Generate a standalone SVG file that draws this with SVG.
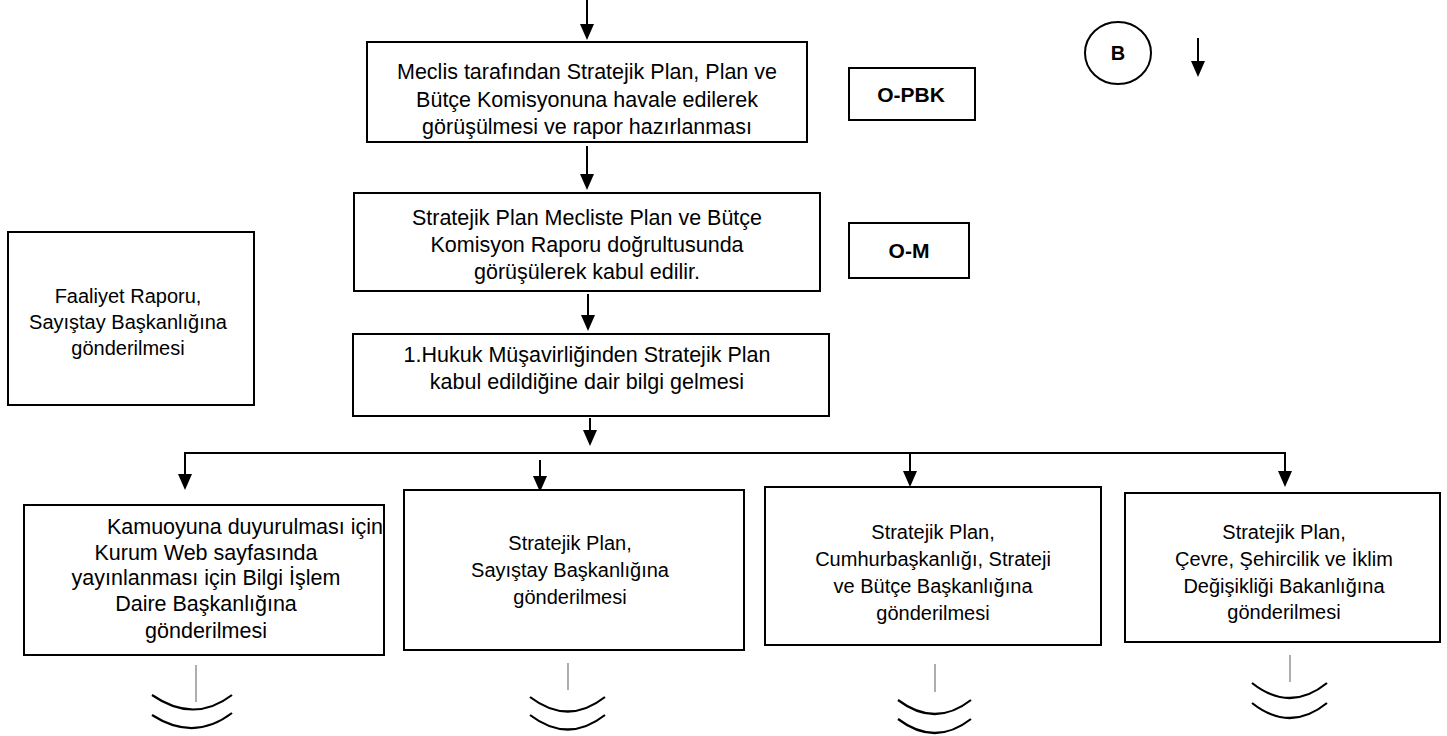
<svg xmlns="http://www.w3.org/2000/svg" width="1447" height="736" viewBox="0 0 1447 736">
<defs>
<style>
.box{fill:#fff;stroke:#000;stroke-width:2}
.t{font-family:"Liberation Sans",Arial,sans-serif;font-size:20px;fill:#000;text-anchor:middle}
.L{font-size:21.5px}
.b{font-weight:bold;font-size:21px}
.c{fill:none;stroke:#000;stroke-width:2}
.arr{fill:none;stroke:#000;stroke-width:2}
.tick{stroke:#777;stroke-width:1.2}
.sq{fill:none;stroke:#000;stroke-width:2.2}
</style>
</defs>
<rect width="1447" height="736" fill="#fff"/>

<g id="connectors">
<line class="arr" x1="587" y1="0" x2="587" y2="25"/>
<path d="M580,24 L594,24 L587,40 Z"/>
<line class="arr" x1="587" y1="146" x2="587" y2="175"/>
<path d="M580,174 L594,174 L587,190 Z"/>
<line class="arr" x1="588" y1="294" x2="588" y2="316"/>
<path d="M581,315 L595,315 L588,331 Z"/>
<line class="arr" x1="590" y1="418" x2="590" y2="431"/>
<path d="M583,430 L597,430 L590,446 Z"/>
<polyline class="arr" points="185,475 185,453 1285,453 1285,472"/>
<path d="M178,474 L192,474 L185,490 Z"/>
<path d="M1278,471 L1292,471 L1285,487 Z"/>
<line class="arr" x1="540" y1="460" x2="540" y2="477"/>
<path d="M533,476 L547,476 L540,492 Z"/>
<line class="arr" x1="910" y1="453" x2="910" y2="472"/>
<path d="M903,471 L917,471 L910,487 Z"/>
<line class="arr" x1="1198" y1="38" x2="1198" y2="62"/>
<path d="M1191,61 L1205,61 L1198,77 Z"/>
</g>

<g id="n1"><rect class="box" x="367" y="42" width="440" height="100"/>
<text class="t L" x="587" y="79">Meclis tarafından Stratejik Plan, Plan ve</text>
<text class="t L" x="587" y="107">Bütçe Komisyonuna havale edilerek</text>
<text class="t L" x="587" y="134">görüşülmesi ve rapor hazırlanması</text></g>

<g id="n2"><rect class="box" x="354" y="193" width="466" height="98"/>
<text class="t L" x="587" y="225">Stratejik Plan Mecliste Plan ve Bütçe</text>
<text class="t L" x="587" y="252">Komisyon Raporu doğrultusunda</text>
<text class="t L" x="587" y="279">görüşülerek kabul edilir.</text></g>

<g id="n3"><rect class="box" x="353" y="334" width="476" height="82"/>
<text class="t L" x="587" y="362">1.Hukuk Müşavirliğinden Stratejik Plan</text>
<text class="t L" x="587" y="389">kabul edildiğine dair bilgi gelmesi</text></g>

<g id="opbk"><rect class="box" x="849" y="68" width="126" height="52"/>
<text class="t b" x="911" y="102">O-PBK</text></g>

<g id="om"><rect class="box" x="849" y="223" width="120" height="55"/>
<text class="t b" x="909" y="258">O-M</text></g>

<g id="left"><rect class="box" x="8" y="232" width="246" height="173"/>
<text class="t" x="128" y="303">Faaliyet Raporu,</text>
<text class="t" x="128" y="329">Sayıştay Başkanlığına</text>
<text class="t" x="128" y="355">gönderilmesi</text></g>

<g id="circleB"><ellipse cx="1118" cy="53" rx="33" ry="31" class="c"/>
<text class="t b" x="1118" y="60" style="font-size:20px">B</text></g>

<g id="nA"><rect class="box" x="24" y="505" width="360" height="150"/>
<text class="t L" x="383" y="534" style="text-anchor:end">Kamuoyuna duyurulması için</text>
<text class="t L" x="206" y="560">Kurum Web sayfasında</text>
<text class="t L" x="206" y="585">yayınlanması için Bilgi İşlem</text>
<text class="t L" x="206" y="611">Daire Başkanlığına</text>
<text class="t L" x="206" y="638">gönderilmesi</text></g>

<g id="nB"><rect class="box" x="404" y="490" width="340" height="160"/>
<text class="t" x="570" y="550">Stratejik Plan,</text>
<text class="t" x="570" y="577">Sayıştay Başkanlığına</text>
<text class="t" x="570" y="604">gönderilmesi</text></g>

<g id="nC"><rect class="box" x="765" y="487" width="336" height="158"/>
<text class="t" x="933" y="539">Stratejik Plan,</text>
<text class="t" x="933" y="566">Cumhurbaşkanlığı, Strateji</text>
<text class="t" x="933" y="593">ve Bütçe Başkanlığına</text>
<text class="t" x="933" y="620">gönderilmesi</text></g>

<g id="nD"><rect class="box" x="1125" y="493" width="315" height="149"/>
<text class="t" x="1284" y="539">Stratejik Plan,</text>
<text class="t" x="1284" y="566">Çevre, Şehircilik ve İklim</text>
<text class="t" x="1284" y="593">Değişikliği Bakanlığına</text>
<text class="t" x="1284" y="619">gönderilmesi</text></g>

<g id="cont">
<line class="tick" x1="196" y1="665" x2="196" y2="702"/>
<path class="sq" d="M152,695 Q194,724 232,695"/>
<path class="sq" d="M152,715 Q194,742 232,713"/>
<line class="tick" x1="568" y1="663" x2="568" y2="690"/>
<path class="sq" d="M530,697 Q568,726 605,697"/>
<path class="sq" d="M530,715 Q568,744 605,715"/>
<line class="tick" x1="935" y1="664" x2="935" y2="692"/>
<path class="sq" d="M898,700 Q935,728 971,700"/>
<path class="sq" d="M898,719 Q935,747 971,719"/>
<line class="tick" x1="1290" y1="655" x2="1290" y2="682"/>
<path class="sq" d="M1252,683 Q1290,713 1327,683"/>
<path class="sq" d="M1252,703 Q1290,733 1327,703"/>
</g>
</svg>
